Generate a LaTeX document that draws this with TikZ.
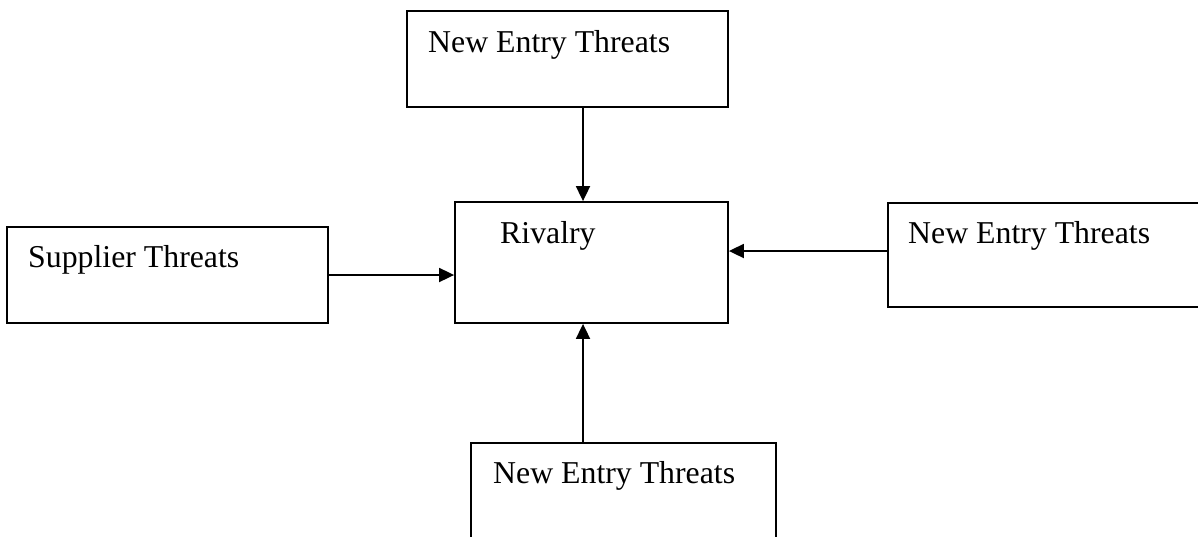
\documentclass[tikz,border=0pt]{standalone}
\usepackage{fontspec}
\setmainfont{Liberation Serif}
\usetikzlibrary{arrows.meta}
\tikzset{
  box/.style={draw, line width=1.8pt, rectangle, inner sep=0pt},
  lbl/.style={anchor=base west, inner sep=0pt, font=\fontsize{31.8}{38}\selectfont},
  arr/.style={line width=1.8pt, -{Triangle[length=15pt,width=14pt]}}
}
\begin{document}
\begin{tikzpicture}[x=1pt,y=-1pt]
\useasboundingbox (0,0) rectangle (1198,536);
\clip (0,0) rectangle (1198,536);
% boxes
\node[box, minimum width=321pt, minimum height=96pt] (top) at (567.5,59) {};
\node[box, minimum width=273pt, minimum height=121pt] (center) at (591.5,262.5) {};
\node[box, minimum width=321pt, minimum height=96pt] (left) at (167.5,275) {};
\node[box, minimum width=330pt, minimum height=104pt] (right) at (1053,255) {};
\node[box, minimum width=305pt, minimum height=112pt] (bottom) at (623.5,499) {};
% texts
\node[lbl] (ttop) at (428,52) {New Entry Threats};
\node[lbl] (tcenter) at (500,243) {Rivalry};
\node[lbl] (tleft) at (28,267) {Supplier Threats};
\node[lbl] (tright) at (908,243) {New Entry Threats};
\node[lbl] (tbottom) at (493,483) {New Entry Threats};
% connector guides
\coordinate (ax) at (583,0);
\coordinate (ayl) at (0,275);
\coordinate (ayr) at (0,251);
% connectors
\draw[arr] (top.south -| ax) -- (center.north -| ax);
\draw[arr] (bottom.north -| ax) -- (center.south -| ax);
\draw[arr] (left.east |- ayl) -- (center.west |- ayl);
\draw[arr] (right.west |- ayr) -- (center.east |- ayr);
\end{tikzpicture}
\end{document}
